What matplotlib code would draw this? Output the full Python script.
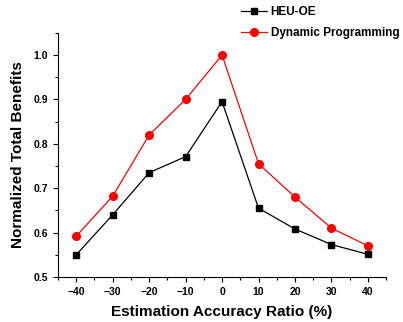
import matplotlib
matplotlib.use("Agg")
import matplotlib.pyplot as plt
from matplotlib.ticker import MultipleLocator

# data
ratio = [-40, -30, -20, -10, 0, 10, 20, 30, 40]
heu_oe = [0.550, 0.640, 0.735, 0.771, 0.895, 0.655, 0.608, 0.573, 0.551]
dyn_prog = [0.592, 0.682, 0.820, 0.900, 1.000, 0.755, 0.680, 0.610, 0.570]

plt.rcParams["font.family"] = ["Liberation Sans", "DejaVu Sans"]
plt.rcParams["font.weight"] = "bold"

fig = plt.figure(figsize=(4.03, 3.22), dpi=100)
ax = fig.add_axes([0.144, 0.140, 0.814, 0.758])

ax.plot(ratio, heu_oe, color="black", marker="s", markersize=5, linewidth=0.9, label="HEU-OE")
ax.plot(ratio, dyn_prog, color="red", marker="o", markersize=5.5, linewidth=0.9, label="Dynamic Programming")

ax.set_xlim(-45, 45)
ax.set_ylim(0.5, 1.05)
ax.set_xticks(ratio)
ax.xaxis.set_minor_locator(MultipleLocator(5))
ax.yaxis.set_major_locator(MultipleLocator(0.1))
ax.yaxis.set_minor_locator(MultipleLocator(0.05))
ax.tick_params(which="major", direction="out", length=3.5, width=0.8, labelsize=7.5)
ax.tick_params(which="minor", direction="out", length=2, width=0.8)
for lbl in ax.get_xticklabels() + ax.get_yticklabels():
    lbl.set_fontweight("bold")

ax.spines["top"].set_visible(False)
ax.spines["right"].set_visible(False)

ax.set_xlabel("Estimation Accuracy Ratio (%)", fontsize=11, fontweight="bold", labelpad=6)
ax.set_ylabel("Normalized Total Benefits", fontsize=11, fontweight="bold", labelpad=6)

fig.legend(loc="upper left", bbox_to_anchor=(0.572, 1.015), frameon=False,
           prop={"size": 8.5, "weight": "bold"}, handlelength=2.2, handletextpad=0.3,
           labelspacing=0.75)

fig.savefig("out.png", dpi=100)
